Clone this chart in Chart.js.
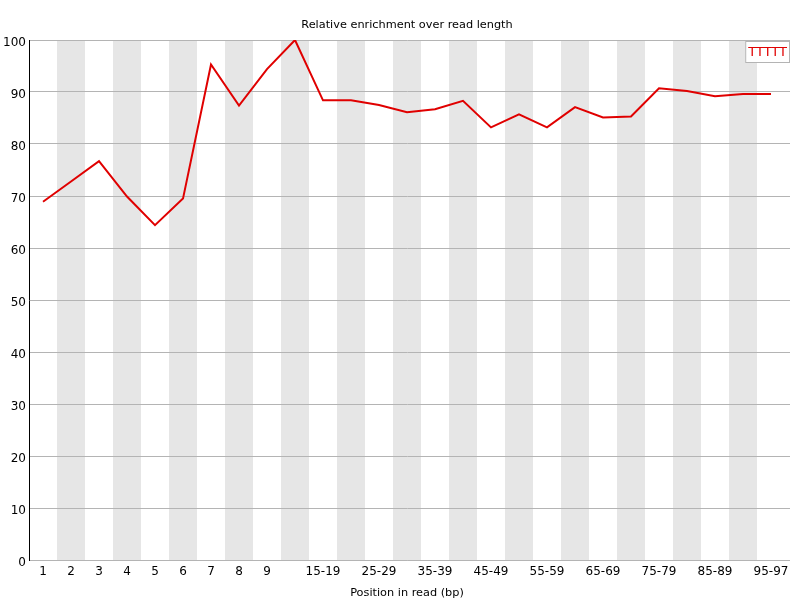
<!DOCTYPE html>
<html>
<head>
<meta charset="utf-8">
<script src="https://cdn.jsdelivr.net/npm/chart.js@4"></script>
<style>
  body { margin: 0; background: #fff; }
</style>
</head>
<body>
<canvas id="kmerChart" width="800" height="600"></canvas>
<script>
// Kmer enrichment over read position

const positions = ["1", "2", "3", "4", "5", "6", "7", "8", "9", "10-14", "15-19", "20-24", "25-29",
    "30-34", "35-39", "40-44", "45-49", "50-54", "55-59", "60-64", "65-69", "70-74", "75-79",
    "80-84", "85-89", "90-94", "95-97"];
const kmerName = "TTTTT";
const enrichment = [68.9, 72.8, 76.7, 69.9, 64.4, 69.5, 95.3, 87.4, 94.4, 100, 88.4, 88.4, 87.5,
    86.1, 86.7, 88.3, 83.2, 85.7, 83.2, 87.1, 85.1, 85.3, 90.7, 90.2, 89.2, 89.6, 89.6];

const fontFamily = "'DejaVu Sans', sans-serif";

// grey stripes behind every other position, grid lines run a little past the plot
const stripes = {
    id: 'stripes',
    beforeDraw(chart) {
        const ctx = chart.ctx;
        const x = chart.scales.x;
        const y = chart.scales.y;
        const area = chart.chartArea;
        const step = x.getPixelForValue(1) - x.getPixelForValue(0);
        ctx.save();
        ctx.fillStyle = '#e6e6e6';
        for (let i = 1; i < positions.length; i += 2) {
            const cx = x.getPixelForValue(i);
            ctx.fillRect(cx - step / 2, area.top, step, area.bottom - area.top);
        }
        ctx.strokeStyle = '#b4b4b4';
        ctx.lineWidth = 1;
        y.ticks.forEach(t => {
            const py = Math.round(y.getPixelForValue(t.value) + 0.5) - 0.5;
            ctx.beginPath();
            ctx.moveTo(area.right - 1, py);
            ctx.lineTo(area.right + 5, py);
            ctx.stroke();
        });
        ctx.restore();
    }
};

// boxed legend in the top right corner
const boxLegend = {
    id: 'boxLegend',
    afterDraw(chart) {
        const ctx = chart.ctx;
        const area = chart.chartArea;
        ctx.save();
        ctx.font = '13px ' + fontFamily;
        const label = chart.data.datasets[0].label;
        const w = ctx.measureText(label).width + 6;
        const x0 = area.right + 5 - w;
        ctx.fillStyle = '#fff';
        ctx.fillRect(x0, area.top + 1, w, 22);
        ctx.strokeStyle = '#b4b4b4';
        ctx.lineWidth = 1;
        ctx.strokeRect(x0 + 0.5, area.top + 1.5, w - 1, 21);
        ctx.fillStyle = '#e00000';
        ctx.textBaseline = 'middle';
        ctx.fillText(label, x0 + 3, area.top + 13);
        ctx.restore();
    }
};

Chart.defaults.font.family = fontFamily;
Chart.defaults.font.size = 12;
Chart.defaults.color = '#000';

new Chart(document.getElementById("kmerChart"), {
    type: 'line',
    data: {
        labels: positions,
        datasets: [{
            label: kmerName,
            data: enrichment,
            borderColor: '#e00000',
            borderWidth: 2,
            pointRadius: 0,
            tension: 0,
            fill: false
        }]
    },
    options: {
        responsive: false,
        animation: false,
        devicePixelRatio: 1,
        layout: {
            padding: { left: 0, right: 15, top: 0, bottom: 0 }
        },
        plugins: {
            legend: { display: false },
            tooltip: { enabled: false },
            title: {
                display: true,
                fullSize: false,
                text: "Relative enrichment over read length",
                color: '#000',
                font: { size: 11.3, weight: 'normal' },
                padding: { top: 18, bottom: 8.44 }
            }
        },
        scales: {
            x: {
                offset: true,
                grid: { display: false, drawTicks: false },
                border: { color: '#b4b4b4', width: 1 },
                ticks: {
                    autoSkip: false,
                    maxRotation: 0,
                    padding: 5,
                    callback: function (value, index) {
                        return (index < 9 || index % 2 === 0) ? positions[index] : '';
                    }
                },
                title: {
                    display: true,
                    text: "Position in read (bp)",
                    font: { size: 11.3 },
                    padding: { top: 3, bottom: 0 }
                },
                afterFit: function (scale) { scale.height = 40; }
            },
            y: {
                min: 0,
                max: 100,
                grid: { color: '#b4b4b4', drawTicks: false },
                border: { color: '#000', width: 1 },
                ticks: { stepSize: 10, padding: 3, labelOffset: 3 },
                afterFit: function (scale) { scale.width = 29; }
            }
        }
    },
    plugins: [stripes, boxLegend]
});
</script>
</body>
</html>
